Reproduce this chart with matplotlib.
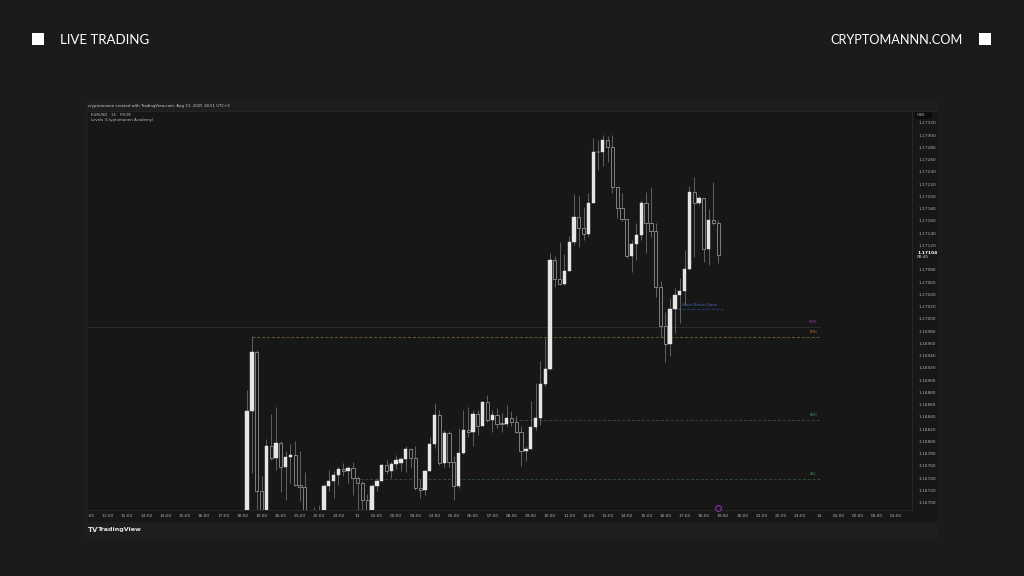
import matplotlib
matplotlib.use("Agg")
import matplotlib.pyplot as plt
from matplotlib.patches import Rectangle
from matplotlib.lines import Line2D
from matplotlib.transforms import Bbox, TransformedBbox
import numpy as np

W, H = 1024, 576

# EURUSD 15m, first candle 18:15 Aug 12 (hours counted from 10:00 Aug 12)
first_candle = 8.25
step = 0.25

opens = [1.16640, 1.16850, 1.16946, 1.16719, 1.16660, 1.16792, 1.16773, 1.16797, 1.16758, 1.16774,
         1.16778, 1.16729, 1.16725, 1.16650, 1.16640, 1.16660, 1.16650, 1.16728, 1.16735, 1.16745,
         1.16755, 1.16751, 1.16757, 1.16740, 1.16732, 1.16705, 1.16680, 1.16728, 1.16736, 1.16762,
         1.16751, 1.16763, 1.16765, 1.16771, 1.16788, 1.16773, 1.16724, 1.16720, 1.16751, 1.16796,
         1.16844, 1.16765, 1.16814, 1.16767, 1.16727, 1.16781, 1.16818, 1.16816, 1.16845, 1.16826,
         1.16864, 1.16835, 1.16844, 1.16830, 1.16829, 1.16838, 1.16831, 1.16815, 1.16784, 1.16788,
         1.16823, 1.16838, 1.16894, 1.16918, 1.17096, 1.17066, 1.17057, 1.17079, 1.17125, 1.17166,
         1.17149, 1.17138, 1.17190, 1.17272, 1.17273, 1.17292, 1.17281, 1.17215, 1.17182, 1.17163,
         1.17103, 1.17122, 1.17137, 1.17190, 1.17156, 1.17143, 1.17052, 1.16988, 1.16959, 1.17016,
         1.17039, 1.17046, 1.17082, 1.17207, 1.17190, 1.17198, 1.17114, 1.17162, 1.17157]
highs = [1.16884, 1.16972, 1.16950, 1.16744, 1.16804, 1.16845, 1.16856, 1.16800, 1.16784, 1.16796,
         1.16801, 1.16785, 1.16750, 1.16680, 1.16693, 1.16697, 1.16731, 1.16754, 1.16751, 1.16759,
         1.16765, 1.16760, 1.16767, 1.16743, 1.16735, 1.16715, 1.16731, 1.16740, 1.16763, 1.16770,
         1.16766, 1.16778, 1.16775, 1.16793, 1.16790, 1.16793, 1.16738, 1.16754, 1.16808, 1.16863,
         1.16852, 1.16819, 1.16817, 1.16776, 1.16822, 1.16851, 1.16857, 1.16852, 1.16852, 1.16865,
         1.16876, 1.16852, 1.16854, 1.16846, 1.16859, 1.16850, 1.16842, 1.16825, 1.16793, 1.16866,
         1.16895, 1.16932, 1.16969, 1.17108, 1.17103, 1.17126, 1.17106, 1.17136, 1.17204, 1.17200,
         1.17183, 1.17205, 1.17295, 1.17292, 1.17301, 1.17298, 1.17300, 1.17216, 1.17206, 1.17163,
         1.17129, 1.17156, 1.17192, 1.17208, 1.17216, 1.17156, 1.17062, 1.17011, 1.17034, 1.17050,
         1.17067, 1.17112, 1.17217, 1.17232, 1.17200, 1.17198, 1.17180, 1.17224, 1.17162]
lows = [1.16620, 1.16749, 1.16640, 1.16620, 1.16640, 1.16770, 1.16754, 1.16718, 1.16705, 1.16732,
        1.16727, 1.16702, 1.16600, 1.16600, 1.16620, 1.16620, 1.16630, 1.16719, 1.16708, 1.16729,
        1.16743, 1.16732, 1.16713, 1.16685, 1.16680, 1.16660, 1.16670, 1.16719, 1.16736, 1.16747,
        1.16741, 1.16755, 1.16752, 1.16750, 1.16757, 1.16721, 1.16708, 1.16713, 1.16751, 1.16790,
        1.16762, 1.16759, 1.16759, 1.16705, 1.16724, 1.16780, 1.16808, 1.16792, 1.16811, 1.16825,
        1.16831, 1.16815, 1.16822, 1.16816, 1.16825, 1.16825, 1.16813, 1.16760, 1.16768, 1.16787,
        1.16819, 1.16827, 1.16891, 1.16916, 1.17053, 1.17055, 1.17055, 1.17078, 1.17120, 1.17118,
        1.17129, 1.17135, 1.17189, 1.17243, 1.17250, 1.17257, 1.17205, 1.17165, 1.17160, 1.17099,
        1.17077, 1.17096, 1.17129, 1.17107, 1.17134, 1.17036, 1.16971, 1.16929, 1.16939, 1.16977,
        1.16993, 1.17023, 1.17080, 1.17102, 1.17186, 1.17093, 1.17088, 1.17153, 1.17091]
closes = [1.16850, 1.16946, 1.16719, 1.16660, 1.16792, 1.16773, 1.16797, 1.16758, 1.16774, 1.16778,
          1.16729, 1.16725, 1.16650, 1.16640, 1.16660, 1.16650, 1.16728, 1.16735, 1.16745, 1.16755,
          1.16751, 1.16757, 1.16740, 1.16732, 1.16705, 1.16680, 1.16728, 1.16736, 1.16762, 1.16751,
          1.16763, 1.16770, 1.16771, 1.16788, 1.16773, 1.16724, 1.16720, 1.16751, 1.16796, 1.16844,
          1.16765, 1.16814, 1.16767, 1.16727, 1.16781, 1.16818, 1.16816, 1.16845, 1.16826, 1.16864,
          1.16835, 1.16844, 1.16829, 1.16829, 1.16838, 1.16831, 1.16815, 1.16784, 1.16788, 1.16823,
          1.16838, 1.16894, 1.16918, 1.17096, 1.17066, 1.17057, 1.17079, 1.17125, 1.17166, 1.17149,
          1.17138, 1.17190, 1.17272, 1.17273, 1.17292, 1.17281, 1.17215, 1.17182, 1.17163, 1.17103,
          1.17122, 1.17137, 1.17190, 1.17156, 1.17143, 1.17052, 1.16988, 1.16959, 1.17016, 1.17039,
          1.17046, 1.17082, 1.17207, 1.17190, 1.17198, 1.17114, 1.17162, 1.17157, 1.17104]

last_price = 1.17104
countdown = "08:45"

# levels: name, price, start hour, colour, style
level_names = ["PWH", "PDH", "ASH", "ASL"]
level_prices = [1.16987, 1.16971, 1.16835, 1.16739]
level_starts = [-0.1, 8.5, 21.9, 14.1]
level_colors = ["#2c2c2c", "#6b5a2c", "#2f4a36", "#2f4a36"]
level_label_colors = ["#8e3fa6", "#c07a2a", "#3d8a52", "#3d8a52"]
level_end = 38.05

nyse_label = "Stock Market Open"
nyse_price = 1.17016
nyse_span = (30.6, 33.0)

price_ticks = [round(1.16700 + 0.0002 * k, 5) for k in range(32)]
hour_ticks = list(range(0, 43))

bg = "#1b1b1b"
panel = "#1e1e1e"
chart_bg = "#171717"
up_col = "#e6e6e6"
dn_edge = "#a8a8a8"
wick_col = "#7e7e7e"
txt = "#b0b0b0"


def fpx(x, y):
    return x / W, 1 - y / H


fig = plt.figure(figsize=(W / 100, H / 100), dpi=100, facecolor=bg)

# screenshot panel
fig.patches.append(Rectangle(fpx(85, 538), 853 / W, 438 / H, transform=fig.transFigure,
                             facecolor=panel, edgecolor="none", zorder=-10))
fig.patches.append(Rectangle(fpx(88, 522), 850 / W, 411 / H, transform=fig.transFigure,
                             facecolor=chart_bg, edgecolor="none", zorder=-9))

ax = fig.add_axes([88 / W, 1 - 510 / H, (912 - 88) / W, (510 - 112) / H])
ax.set_zorder(5)
ax.set_facecolor(chart_bg)
x0 = (88 - 88.5) / 19.227
x1 = (912 - 88.5) / 19.227
ax.set_xlim(x0, x1)
ax.set_ylim(1.17320 - (510 - 123) * 1.6329e-5, 1.17320 + 11 * 1.6329e-5)

for s in ax.spines.values():
    s.set_color("#2a2a2a")
    s.set_linewidth(0.6)
ax.spines["left"].set_visible(False)
ax.spines["top"].set_visible(False)

# levels
for i, (nm, p, st) in enumerate(zip(level_names, level_prices, level_starts)):
    ls = "-" if i == 0 else (0, (3, 2))
    ax.plot([st, level_end], [p, p], color=level_colors[i], lw=0.7, ls=ls, zorder=1)
    ax.text(level_end - 0.15, p + 0.00005, nm, color=level_label_colors[i], fontsize=2.6,
            ha="right", va="bottom", zorder=3)
ax.plot(nyse_span, [nyse_price, nyse_price], color="#24427a", lw=0.7, ls=(0, (3, 2)), zorder=1)
ax.text(np.mean(nyse_span), nyse_price + 0.00004, nyse_label, color="#3f67c6", fontsize=2.6,
        ha="center", va="bottom", zorder=3)

# candles
o = np.array(opens)
h = np.array(highs)
l = np.array(lows)
c = np.array(closes)
t = first_candle + step * np.arange(len(o))
up = c >= o
ax.vlines(t, l, h, color=wick_col, lw=0.5, zorder=2)
body_lo = np.minimum(o, c)
body_h = np.maximum(np.abs(c - o), 0.000012)
ax.bar(t[up], body_h[up], bottom=body_lo[up], width=0.17, color=up_col,
       edgecolor=up_col, lw=0.3, zorder=3)
ax.bar(t[~up], body_h[~up], bottom=body_lo[~up], width=0.17, color=chart_bg,
       edgecolor=dn_edge, lw=0.5, zorder=3)

# right price scale
ax.yaxis.tick_right()
shown = [p for p in price_ticks if abs(p - last_price) > 0.00008]
ax.set_yticks(shown)
ax.set_yticklabels([f"{p:.5f}" for p in shown])
ax.tick_params(axis="y", length=0, pad=4.5, labelsize=3.1, labelcolor=txt)
lx = 1.0 + 5 / 824
ax.text(lx, last_price, "1.17104", transform=ax.get_yaxis_transform(), fontsize=3.2,
        color="#ffffff", weight="bold", ha="left", va="bottom", clip_on=False)
ax.text(lx, last_price, countdown, transform=ax.get_yaxis_transform(), fontsize=3.1,
        color="#d0d0d0", ha="left", va="top", clip_on=False)

# time scale
labels = []
for hh in hour_ticks:
    clock = (10 + hh) % 24
    if clock == 0:
        labels.append("13" if hh < 20 else "14")
    else:
        labels.append(f"{clock:02d}:00")
ax.set_xticks(hour_ticks)
ax.set_xticklabels(labels)
ax.tick_params(axis="x", length=0, pad=3, labelsize=3.1, labelcolor=txt)
clip = TransformedBbox(Bbox([[88 / W, 0], [912 / W, 1]]), fig.transFigure)
for lb in ax.get_xticklabels():
    lb.set_clip_box(clip)
    lb.set_clip_on(True)

# event marker
fig.add_artist(Line2D([718 / W], [1 - 508 / H], marker="o", markersize=4.2,
                      markerfacecolor="#2b1233", markeredgecolor="#a23cc0", mew=0.6,
                      transform=fig.transFigure, zorder=8))

# USD box
fig.patches.append(Rectangle(fpx(915, 119), 17 / W, 7 / H, transform=fig.transFigure,
                             facecolor="#0c0c0c", edgecolor="none", zorder=6))
fig.text(*fpx(917, 115.5), "USD", fontsize=2.8, color="#d0d0d0", va="center", zorder=7)

# header of the screenshot
fig.text(*fpx(88, 105.5), "cryptomannn created with TradingView.com, Aug 13, 2025 18:51 UTC+3",
         fontsize=2.8, color="#cfcfcf", va="center")
fig.add_artist(Line2D([85 / W, 938 / W], [1 - 110.5 / H] * 2, color="#2a2a2a", lw=0.5,
                      transform=fig.transFigure))
fig.text(*fpx(91, 114.5), "EURUSD \u00b7 15 \u00b7 FXCM", fontsize=2.8, color="#bdbdbd",
         va="center", zorder=7)
fig.text(*fpx(91, 120.5), "Levels (Cryptomannn Academy)", fontsize=2.8, color="#bdbdbd",
         va="center", zorder=7)

# TradingView footer
fig.text(*fpx(88, 529.5), "TV", fontsize=5, color="#e0e0e0", weight="bold", va="center")
fig.text(*fpx(98, 529.5), "TradingView", fontsize=4.6, color="#e0e0e0", weight="bold", va="center")

# page header
fig.patches.append(Rectangle(fpx(32, 45), 12 / W, 12 / H, transform=fig.transFigure,
                             facecolor="white", edgecolor="none"))
fig.patches.append(Rectangle(fpx(979, 45), 12 / W, 12 / H, transform=fig.transFigure,
                             facecolor="white", edgecolor="none"))
fig.text(*fpx(60, 39.5), "LIVE TRADING", fontsize=9.5, color="white", va="center",
         family=["Lato", "DejaVu Sans"])
fig.text(*fpx(963, 39.5), "CRYPTOMANNN.COM", fontsize=9.2, color="white", va="center",
         ha="right", family=["Lato", "DejaVu Sans"])

fig.savefig("out.png", dpi=100, facecolor=bg)
